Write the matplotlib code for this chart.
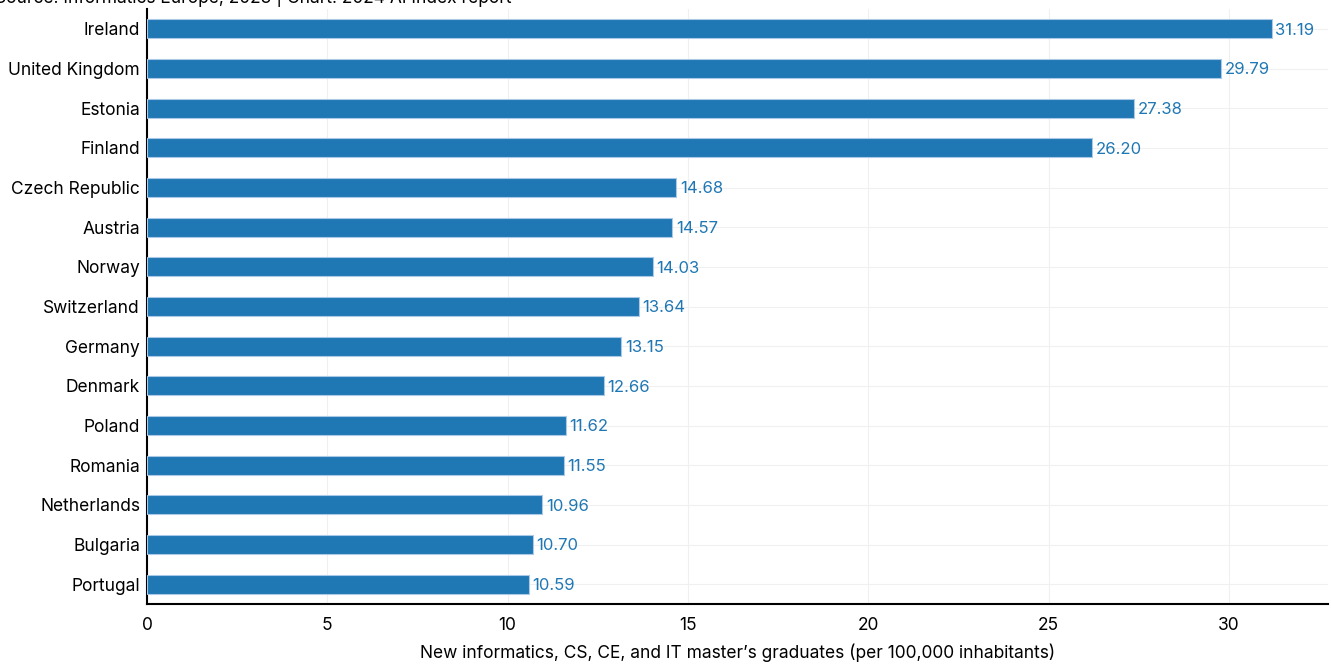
import matplotlib
matplotlib.use('Agg')
import matplotlib.pyplot as plt

countries = ['Ireland', 'United Kingdom', 'Estonia', 'Finland', 'Czech Republic',
             'Austria', 'Norway', 'Switzerland', 'Germany', 'Denmark', 'Poland',
             'Romania', 'Netherlands', 'Bulgaria', 'Portugal']
values = [31.19, 29.79, 27.38, 26.20, 14.68, 14.57, 14.03, 13.64, 13.15, 12.66,
          11.62, 11.55, 10.96, 10.70, 10.59]
xticks = [0, 5, 10, 15, 20, 25, 30]

plt.rcParams['font.family'] = ['Inter', 'DejaVu Sans']

blue = '#1f77b4'

fig = plt.figure(figsize=(13.31, 6.67), dpi=100)
ax = fig.add_axes([147 / 1331, 1 - 604 / 667, (1328 - 147) / 1331, (604 - 9) / 667])

ypos = list(range(len(countries)))
ax.barh(ypos, values, height=0.48, color=blue, edgecolor='#a9c9e6', linewidth=0.8, zorder=3)
for y, v in zip(ypos, values):
    ax.text(v + 0.1, y + 0.03, '{:.2f}'.format(v), va='center', ha='left',
            fontsize=12, color=blue, zorder=4)

ax.set_ylim(len(countries) - 0.5, -0.5)
ax.set_xlim(0, 32.75)
ax.set_yticks(ypos)
ax.set_yticklabels(countries, fontsize=12.5)
ax.set_xticks(xticks)
ax.set_xticklabels([str(t) for t in xticks], fontsize=12.5)
ax.tick_params(axis='y', length=0, pad=5)
ax.tick_params(axis='x', length=0, pad=9)
ax.grid(True, color='#f0f0f0', linewidth=0.8, zorder=0)
ax.set_axisbelow(True)
for s in ['top', 'right']:
    ax.spines[s].set_visible(False)
for s in ['left', 'bottom']:
    ax.spines[s].set_color('black')
    ax.spines[s].set_linewidth(1.5)

ax.set_xlabel("New informatics, CS, CE, and IT master\u2019s graduates (per 100,000 inhabitants)",
              fontsize=12.5, labelpad=7)

# source line sits at the very top edge, partly cut off like in the original
fig.text(-0.004, 1.005, 'Source: Informatics Europe, 2023 | Chart: 2024 AI Index report',
         fontsize=12.5, va='center', ha='left')

fig.savefig('out.png', dpi=100)
